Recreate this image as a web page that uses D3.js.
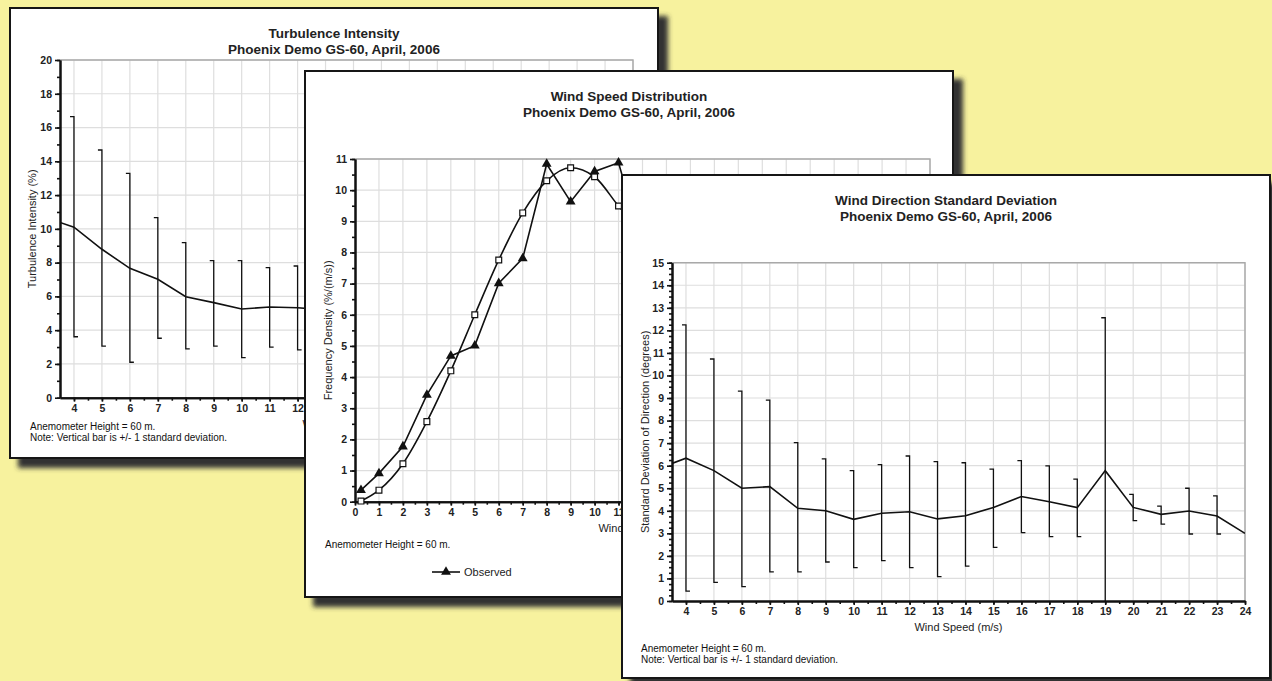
<!DOCTYPE html>
<html>
<head>
<meta charset="utf-8">
<script src="https://cdn.jsdelivr.net/npm/d3@7"></script>
<style>
  body { margin: 0; background: #f7f29e; }
  svg { display: block; font-family: Arial, "Liberation Sans", sans-serif; }
</style>
</head>
<body>
<svg width="1272" height="681"></svg>
<script>
// ---- values ----

// Turbulence Intensity
const tiLineSpeed = [3.5, 4, 5, 6, 7, 8, 9, 10, 11, 12, 13];
const tiMean = [10.38, 10.1, 8.79, 7.66, 7.01, 5.98, 5.63, 5.25, 5.37, 5.33, 5.2];
const tiBarSpeed = [4, 5, 6, 7, 8, 9, 10, 11, 12];
const tiUpper = [16.65, 14.67, 13.29, 10.66, 9.18, 8.12, 8.12, 7.7, 7.8];
const tiLower = [3.61, 3.06, 2.1, 3.52, 2.89, 3.06, 2.37, 2.99, 2.83];

// Wind Speed Distribution
const wsdSpeed = [0.25, 1, 2, 3, 4, 5, 6, 7, 8, 9, 10, 11, 12];
const wsdObserved = [0.37, 0.91, 1.77, 3.43, 4.68, 5.01, 7.01, 7.81, 10.84, 9.63, 10.6, 10.88, 8.2];
const wsdFit = [0.02, 0.37, 1.22, 2.57, 4.2, 6.0, 7.76, 9.27, 10.3, 10.72, 10.43, 9.49, 8.6];

// Wind Direction Standard Deviation
const wdLineSpeed = [3.5, 4, 5, 6, 7, 8, 9, 10, 11, 12, 13, 14, 15, 16, 17, 18, 19, 20, 21, 22, 23, 24];
const wdMean = [6.1, 6.33, 5.78, 5.0, 5.07, 4.11, 4.0, 3.62, 3.89, 3.96, 3.64, 3.78, 4.15, 4.63, 4.4, 4.14, 5.78, 4.15, 3.84, 3.99, 3.77, 3.0];
const wdBarSpeed = [4, 5, 6, 7, 8, 9, 10, 11, 12, 13, 14, 15, 16, 17, 18, 19, 20, 21, 22, 23];
const wdUpper = [12.24, 10.73, 9.31, 8.91, 7.02, 6.3, 5.78, 6.05, 6.43, 6.18, 6.13, 5.85, 6.22, 5.99, 5.4, 12.56, 4.73, 4.21, 5.0, 4.66];
const wdLower = [0.44, 0.83, 0.64, 1.29, 1.29, 1.73, 1.48, 1.79, 1.48, 1.08, 1.55, 2.38, 3.03, 2.85, 2.85, -1.0, 3.56, 3.41, 2.97, 2.97];

const subTitle = 'Phoenix Demo GS-60, April, 2006';
const noteHeight = 'Anemometer Height = 60 m.';
const noteBar = 'Note: Vertical bar is +/- 1 standard deviation.';

const svg = d3.select('svg');
svg.append('rect').attr('width', 1272).attr('height', 681).attr('fill', '#f7f29e');

// drop shadow for the paper sheets
const defs = svg.append('defs');
const filt = defs.append('filter').attr('id', 'shadow')
  .attr('x', '-5%').attr('y', '-5%').attr('width', '115%').attr('height', '115%');
filt.append('feGaussianBlur').attr('in', 'SourceAlpha').attr('stdDeviation', 2.5).attr('result', 'blur');
filt.append('feOffset').attr('in', 'blur').attr('dx', 9).attr('dy', 9).attr('result', 'off');
filt.append('feFlood').attr('flood-color', '#333').attr('result', 'col');
filt.append('feComposite').attr('in', 'col').attr('in2', 'off').attr('operator', 'in').attr('result', 'sh');
const merge = filt.append('feMerge');
merge.append('feMergeNode').attr('in', 'sh');
merge.append('feMergeNode').attr('in', 'SourceGraphic');

function styleAxis(sel) {
  sel.select('.domain').attr('stroke', '#111').attr('stroke-width', 2);
  sel.selectAll('.tick line').attr('stroke', '#111').attr('stroke-width', 1.6);
  sel.selectAll('.tick text')
    .attr('font-family', 'Arial, "Liberation Sans", sans-serif')
    .attr('font-size', 10.5).attr('font-weight', 'bold').attr('fill', '#222');
}

// draws one paper sheet with its empty chart, returns the scales
function drawPanel(cfg, id) {
  const g = svg.append('g');
  const [bx, by, bw, bh] = cfg.box;
  const p = cfg.plot;

  g.append('rect')
    .attr('x', bx).attr('y', by).attr('width', bw).attr('height', bh)
    .attr('fill', '#fff').attr('stroke', '#151515').attr('stroke-width', 2)
    .attr('filter', 'url(#shadow)');

  const x = d3.scaleLinear().domain(cfg.xDomain).range([p.left, p.right]);
  const y = d3.scaleLinear().domain(cfg.yDomain).range([p.bottom, p.top]);

  // light grid
  const grid = g.append('g').attr('stroke', '#dedede').attr('stroke-width', 1.2);
  grid.selectAll('line.v').data(cfg.xGrid).join('line').attr('class', 'v')
    .attr('x1', d => x(d)).attr('x2', d => x(d)).attr('y1', p.top).attr('y2', p.bottom);
  grid.selectAll('line.h').data(cfg.yGrid).join('line').attr('class', 'h')
    .attr('x1', p.left).attr('x2', p.right).attr('y1', d => y(d)).attr('y2', d => y(d));

  // grey top / right frame
  g.append('path')
    .attr('d', `M${p.left},${p.top}H${p.right}V${p.bottom}`)
    .attr('fill', 'none').attr('stroke', '#a9a9a9').attr('stroke-width', 1.4);

  // axes, major + minor ticks
  g.append('g').attr('transform', `translate(${p.left},0)`)
    .call(d3.axisLeft(y).tickValues(cfg.yMinor).tickSize(3).tickSizeOuter(0).tickFormat(''))
    .call(styleAxis);
  g.append('g').attr('transform', `translate(${p.left},0)`)
    .call(d3.axisLeft(y).tickValues(cfg.yTicks).tickSize(5).tickSizeOuter(0).tickPadding(3))
    .call(styleAxis);
  g.append('g').attr('transform', `translate(0,${p.bottom})`)
    .call(d3.axisBottom(x).tickValues(cfg.xMinor).tickSize(3).tickSizeOuter(0).tickFormat(''))
    .call(styleAxis);
  g.append('g').attr('transform', `translate(0,${p.bottom})`)
    .call(d3.axisBottom(x).tickValues(cfg.xTicks).tickSize(4).tickSizeOuter(0).tickPadding(3))
    .call(styleAxis);

  // titles
  const cx = bx + bw / 2;
  g.append('text').attr('x', cx).attr('y', by + 30).attr('text-anchor', 'middle')
    .attr('font-size', 13.5).attr('font-weight', 'bold').attr('fill', '#222').text(cfg.title);
  g.append('text').attr('x', cx).attr('y', by + 45.5).attr('text-anchor', 'middle')
    .attr('font-size', 13.5).attr('font-weight', 'bold').attr('fill', '#222').text(subTitle);

  // axis labels
  g.append('text').attr('x', (p.left + p.right) / 2).attr('y', p.bottom + 30)
    .attr('text-anchor', 'middle').attr('font-size', 11).attr('fill', '#222').text(cfg.xLabel);
  g.append('text')
    .attr('transform', `translate(${cfg.yLabelX},${(p.top + p.bottom) / 2}) rotate(-90)`)
    .attr('text-anchor', 'middle').attr('dy', '0.35em')
    .attr('font-size', 11).attr('fill', '#222').text(cfg.yLabel);

  // footnotes
  cfg.notes.forEach((t, i) => {
    g.append('text').attr('x', cfg.noteX).attr('y', cfg.noteY + i * 10.5)
      .attr('font-size', 10).attr('fill', '#111').text(t);
  });

  defs.append('clipPath').attr('id', 'clip' + id)
    .append('rect').attr('x', p.left).attr('y', p.top)
    .attr('width', p.right - p.left).attr('height', p.bottom - p.top);
  const plotG = g.append('g').attr('clip-path', `url(#clip${id})`);

  return { g, plotG, x, y };
}

function errorBars(g, x, y, xs, up, lo) {
  g.append('g').attr('fill', 'none').attr('stroke', '#111').attr('stroke-width', 1.3)
    .selectAll('path').data(xs).join('path')
    .attr('d', (d, i) => `M${x(d) - 4},${y(up[i])}H${x(d)}V${y(lo[i])}H${x(d) + 4}`);
}

function meanLine(g, x, y, xs, ys, curve) {
  const line = d3.line().x((d, i) => x(xs[i])).y(d => y(d)).curve(curve || d3.curveLinear);
  g.append('path').datum(ys).attr('d', line)
    .attr('fill', 'none').attr('stroke', '#111').attr('stroke-width', 1.6);
}

// ---- Panel 1: Turbulence Intensity ----
const p1 = drawPanel({
  box: [10, 8, 648, 450],
  plot: { left: 60, right: 633, top: 60, bottom: 397.7 },
  xDomain: [3.5, 24], yDomain: [0, 20],
  xGrid: d3.range(4, 25), yGrid: d3.range(2, 21, 2),
  xTicks: d3.range(4, 25), xMinor: d3.range(4, 24.01, 0.5),
  yTicks: d3.range(0, 21, 2), yMinor: d3.range(0, 20.01, 1),
  title: 'Turbulence Intensity',
  xLabel: 'Wind Speed (m/s)', yLabel: 'Turbulence Intensity (%)', yLabelX: 32,
  notes: [noteHeight, noteBar], noteX: 30, noteY: 430
}, 1);
errorBars(p1.plotG, p1.x, p1.y, tiBarSpeed, tiUpper, tiLower);
meanLine(p1.plotG, p1.x, p1.y, tiLineSpeed, tiMean);

// ---- Panel 2: Wind Speed Distribution ----
const p2 = drawPanel({
  box: [305, 71, 648, 526],
  plot: { left: 355, right: 930, top: 159, bottom: 501.7 },
  xDomain: [0, 24], yDomain: [0, 11],
  xGrid: d3.range(1, 25), yGrid: d3.range(1, 12),
  xTicks: d3.range(0, 25), xMinor: d3.range(0, 24.01, 0.5),
  yTicks: d3.range(0, 12), yMinor: d3.range(0, 11.01, 0.5),
  title: 'Wind Speed Distribution',
  xLabel: 'Wind Speed (m/s)', yLabel: 'Frequency Density (%/(m/s))', yLabelX: 328,
  notes: [noteHeight], noteX: 325, noteY: 548
}, 2);
meanLine(p2.plotG, p2.x, p2.y, wsdSpeed, wsdFit, d3.curveMonotoneX);
meanLine(p2.plotG, p2.x, p2.y, wsdSpeed, wsdObserved);
p2.g.append('g').selectAll('path').data(wsdFit).join('path')
  .attr('transform', (d, i) => `translate(${p2.x(wsdSpeed[i])},${p2.y(d)})`)
  .attr('d', d3.symbol(d3.symbolSquare, 34))
  .attr('fill', '#fff').attr('stroke', '#111').attr('stroke-width', 1.2);
p2.g.append('g').selectAll('path').data(wsdObserved).join('path')
  .attr('transform', (d, i) => `translate(${p2.x(wsdSpeed[i])},${p2.y(d)})`)
  .attr('d', d3.symbol(d3.symbolTriangle, 42)).attr('fill', '#111');

// legend
const leg = p2.g.append('g').attr('transform', 'translate(432,572)');
leg.append('line').attr('x1', 0).attr('x2', 28).attr('stroke', '#111').attr('stroke-width', 1.6);
leg.append('path').attr('transform', 'translate(14,0)').attr('d', d3.symbol(d3.symbolTriangle, 42)).attr('fill', '#111');
leg.append('text').attr('x', 32).attr('y', 4).attr('font-size', 11).attr('fill', '#222').text('Observed');

// ---- Panel 3: Wind Direction Standard Deviation ----
const p3 = drawPanel({
  box: [622, 175, 648, 503],
  plot: { left: 672, right: 1245, top: 262.7, bottom: 601 },
  xDomain: [3.5, 24], yDomain: [0, 15],
  xGrid: d3.range(4, 25), yGrid: d3.range(1, 16),
  xTicks: d3.range(4, 25), xMinor: d3.range(4, 24.01, 0.5),
  yTicks: d3.range(0, 16), yMinor: d3.range(0, 15.01, 0.25),
  title: 'Wind Direction Standard Deviation',
  xLabel: 'Wind Speed (m/s)', yLabel: 'Standard Deviation of Direction (degrees)', yLabelX: 645,
  notes: [noteHeight, noteBar], noteX: 641, noteY: 652
}, 3);
errorBars(p3.plotG, p3.x, p3.y, wdBarSpeed, wdUpper, wdLower);
meanLine(p3.plotG, p3.x, p3.y, wdLineSpeed, wdMean);
</script>
</body>
</html>
